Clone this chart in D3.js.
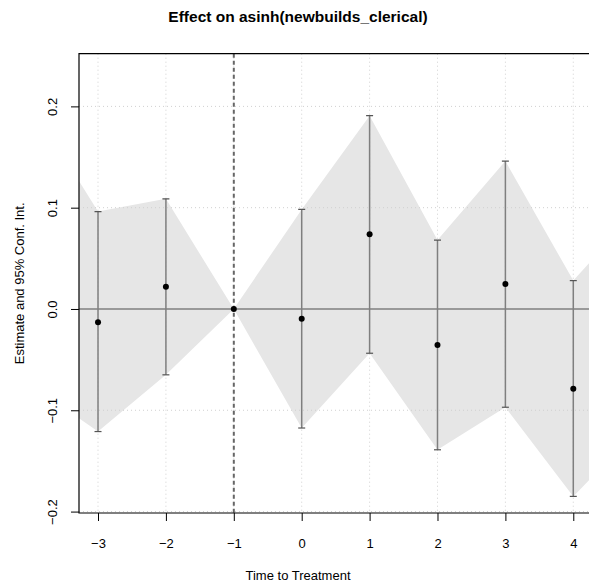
<!DOCTYPE html>
<meta charset="utf-8">
<script src="https://d3js.org/d3.v7.min.js"></script>
<style>
  body { margin: 0; background: #fff; }
  text { font-family: "Liberation Sans", Arial, sans-serif; fill: #000; }
</style>
<div id="viz"></div>
<script>
// event-study estimates (periods -4 and 5 sit outside the visible window,
// they only shape the ribbon at the edges)
const periods  = [-4, -3, -2, -1, 0, 1, 2, 3, 4, 5];
const estimate = [0.065, -0.013, 0.022, 0, -0.0096, 0.0737, -0.0356, 0.0247, -0.0788, -0.007];
const ciLow    = [-0.074, -0.121, -0.065, 0, -0.1175, -0.0437, -0.139, -0.097, -0.185, -0.116];
const ciHigh   = [0.204, 0.0962, 0.1087, 0, 0.0983, 0.1908, 0.068, 0.146, 0.028, 0.102];

const xTicks = [-3, -2, -1, 0, 1, 2, 3, 4];
const yTicks = [-0.2, -0.1, 0.0, 0.1, 0.2];
const refPeriod = -1;

const title = "Effect on asinh(newbuilds_clerical)";
const xLabel = "Time to Treatment";
const yLabel = "Estimate and 95% Conf. Int.";

const W = 589, H = 588;
const plot = {left: 79, right: 592.3, top: 53.7, bottom: 513};

const rows = periods.map((p, i) => ({p: p, est: estimate[i], lo: ciLow[i], hi: ciHigh[i]}));

const svg = d3.select("#viz").append("svg")
  .attr("width", W).attr("height", H);

const x = d3.scaleLinear().domain([-3.28, 4.28]).range([plot.left, plot.right]);
const y = d3.scaleLinear().domain([-0.2014, 0.252]).range([plot.bottom, plot.top]);

svg.append("clipPath").attr("id", "clip")
  .append("rect")
  .attr("x", plot.left).attr("y", plot.top)
  .attr("width", plot.right - plot.left).attr("height", plot.bottom - plot.top);

const g = svg.append("g").attr("clip-path", "url(#clip)");

// confidence ribbon
const area = d3.area()
  .x(d => x(d.p))
  .y0(d => y(d.lo))
  .y1(d => y(d.hi));
g.append("path").datum(rows)
  .attr("d", area)
  .attr("fill", "#e6e6e6");

// dotted grid
g.selectAll(".vgrid").data(xTicks).enter().append("line")
  .attr("x1", d => x(d)).attr("x2", d => x(d))
  .attr("y1", plot.top).attr("y2", plot.bottom)
  .attr("stroke", "#d0d0d0").attr("stroke-width", 1)
  .attr("stroke-dasharray", "1,3");
g.selectAll(".hgrid").data(yTicks).enter().append("line")
  .attr("x1", plot.left).attr("x2", plot.right)
  .attr("y1", d => y(d)).attr("y2", d => y(d))
  .attr("stroke", "#d0d0d0").attr("stroke-width", 1)
  .attr("stroke-dasharray", "1,3");

// zero line
g.append("line")
  .attr("x1", plot.left).attr("x2", plot.right)
  .attr("y1", y(0)).attr("y2", y(0))
  .attr("stroke", "#999").attr("stroke-width", 2);

// reference period
g.append("line")
  .attr("x1", x(refPeriod)).attr("x2", x(refPeriod))
  .attr("y1", plot.top).attr("y2", plot.bottom)
  .attr("stroke", "#666").attr("stroke-width", 2)
  .attr("stroke-dasharray", "4,3");

// error bars
const bars = rows.filter(d => d.p !== refPeriod);
g.selectAll(".bar").data(bars).enter().append("line")
  .attr("x1", d => x(d.p)).attr("x2", d => x(d.p))
  .attr("y1", d => y(d.lo)).attr("y2", d => y(d.hi))
  .attr("stroke", "#7f7f7f").attr("stroke-width", 1.5);
["lo", "hi"].forEach(k => {
  g.selectAll(".cap-" + k).data(bars).enter().append("line")
    .attr("x1", d => x(d.p) - 3.5).attr("x2", d => x(d.p) + 3.5)
    .attr("y1", d => y(d[k])).attr("y2", d => y(d[k]))
    .attr("stroke", "#555").attr("stroke-width", 1.2);
});

// point estimates
g.selectAll(".pt").data(rows).enter().append("circle")
  .attr("cx", d => x(d.p)).attr("cy", d => y(d.est))
  .attr("r", 3).attr("fill", "#000");

// box
svg.append("path")
  .attr("d", `M${plot.right},${plot.top}H${plot.left}V${plot.bottom}H${plot.right}`)
  .attr("fill", "none").attr("stroke", "#000").attr("stroke-width", 1.2);

// axes
const fmtX = d => d < 0 ? "\u2212" + Math.abs(d) : String(d);
const fmtY = d => {
  const s = Math.abs(d).toFixed(1);
  return d < 0 ? "\u2212" + s : s;
};

const xAxis = svg.append("g")
  .attr("transform", `translate(0,${plot.bottom})`)
  .call(d3.axisBottom(x).tickValues(xTicks).tickFormat(fmtX).tickSize(8).tickPadding(18));
xAxis.select(".domain").remove();
xAxis.selectAll("text").attr("font-size", 13).attr("font-family", "Liberation Sans, Arial, sans-serif");
xAxis.selectAll(".tick line").attr("stroke", "#000");

const yAxis = svg.append("g")
  .attr("transform", `translate(${plot.left},0)`)
  .call(d3.axisLeft(y).tickValues(yTicks).tickFormat(fmtY).tickSize(8).tickPadding(0));
yAxis.select(".domain").remove();
yAxis.selectAll(".tick line").attr("stroke", "#000");
yAxis.selectAll("text")
  .attr("font-size", 13).attr("font-family", "Liberation Sans, Arial, sans-serif")
  .attr("x", null).attr("dy", null)
  .attr("text-anchor", "middle")
  .attr("transform", "translate(-27,0) rotate(-90)")
  .attr("dy", "0.35em");

// titles
svg.append("text")
  .attr("x", 298).attr("y", 22)
  .attr("text-anchor", "middle")
  .attr("font-size", 15.5).attr("font-weight", "bold")
  .text(title);

svg.append("text")
  .attr("x", 298).attr("y", 580)
  .attr("text-anchor", "middle")
  .attr("font-size", 13)
  .text(xLabel);

svg.append("text")
  .attr("transform", `translate(24,${(plot.top + plot.bottom) / 2}) rotate(-90)`)
  .attr("text-anchor", "middle")
  .attr("font-size", 13)
  .text(yLabel);
</script>
